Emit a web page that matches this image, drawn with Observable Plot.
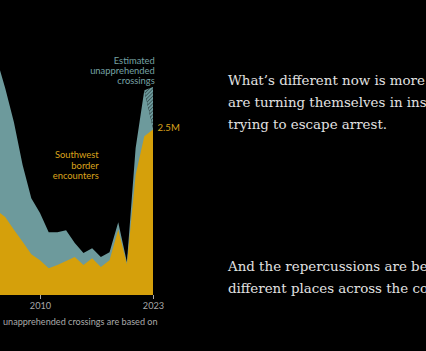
<!DOCTYPE html>
<html><head><meta charset="utf-8">
<script src="https://cdn.jsdelivr.net/npm/d3@7"></script>
<script src="https://cdn.jsdelivr.net/npm/@observablehq/plot@0.6"></script>
<style>
html,body{margin:0;padding:0;background:#000;width:426px;height:351px;overflow:hidden;position:relative;}
#chart{position:absolute;left:-20px;top:0;}
#note{position:absolute;left:3px;top:315px;font-family:Lato;font-size:9.1px;line-height:14px;color:#a9a9a9;white-space:nowrap;}
.story{position:absolute;left:228px;font-family:"DejaVu Serif";font-size:13.4px;line-height:22px;color:#e2e2e2;white-space:nowrap;}
</style></head>
<body>
<div id="chart"></div>
<div id="note">unapprehended crossings are based on</div>
<div class="story" style="top:70px">What’s different now is more people<br>are turning themselves in instead of<br>trying to escape arrest.</div>
<div class="story" style="top:256px">And the repercussions are being felt in<br>different places across the country.</div>
<script>
// Fiscal years shown
const years = [2005,2006,2007,2008,2009,2010,2011,2012,2013,2014,2015,2016,2017,2018,2019,2020,2021,2022,2023];
// Southwest border encounters (millions)
const encounters = [1.27,1.17,0.98,0.80,0.61,0.52,0.40,0.45,0.51,0.57,0.45,0.55,0.42,0.52,0.98,0.46,1.80,2.38,2.48];
// Encounters + estimated unapprehended crossings (millions), solid part
const totalCrossings = [3.55,3.10,2.59,1.95,1.45,1.23,0.94,0.94,0.97,0.78,0.63,0.70,0.57,0.64,1.09,0.49,2.20,3.07,2.50];
// Hatched (preliminary) estimate
const hatchYears = [2022,2023];
const hatchLow = [3.07,2.50];
const hatchHigh = [3.07,3.12];
const tickYears = [2010,2023];
const seriesLabels = ["Southwest\nborder\nencounters","Estimated\nunapprehended\ncrossings"];
const valueLabel = "2.5M";

const YELLOW = "#d5a00b", TEAL = "#6d9a9c";
const rows = years.map((year,i)=>({year, enc: encounters[i], total: totalCrossings[i]}));
const hatchRows = hatchYears.map((year,i)=>({year, low: hatchLow[i], high: hatchHigh[i]}));

const plot = Plot.plot({
  width: 200, height: 335,
  marginLeft: 16.54, marginRight: 27, marginTop: 28.2, marginBottom: 40,
  style: {background: "transparent", color: "#a8a8a8", fontFamily: "Lato", fontSize: "9.2px", overflow: "visible"},
  x: {domain: [2005, 2023], ticks: tickYears, tickFormat: d => String(d), tickSize: 4, tickPadding: 2.5, label: null},
  y: {domain: [0, 4], axis: null},
  marks: [
    Plot.areaY(rows, {x: "year", y: "total", fill: TEAL}),
    Plot.areaY(hatchRows, {x: "year", y1: "low", y2: "high", fill: "url(#hatch)"}),
    Plot.areaY(rows, {x: "year", y: "enc", fill: YELLOW}),
    Plot.text([seriesLabels[0]], {x: 2016.7, y: 1.95, text: d => d, textAnchor: "end", lineAnchor: "middle", lineHeight: 1.1, fill: "#dba31c", fontSize: 9.4}),
    Plot.text([seriesLabels[1]], {x: 2023.15, y: 3.37, text: d => d, textAnchor: "end", lineAnchor: "middle", lineHeight: 1.1, fill: "#76a2a4", fontSize: 9.4}),
    Plot.text([valueLabel], {x: years[years.length-1], y: encounters[encounters.length-1], text: d => d, dx: 4, dy: -2, textAnchor: "start", fill: "#dba31c", fontSize: 9.6})
  ]
});
const defs = d3.select(plot).insert("defs", ":first-child");
const pat = defs.append("pattern").attr("id","hatch").attr("width",2.6).attr("height",2.6)
  .attr("patternUnits","userSpaceOnUse").attr("patternTransform","rotate(45)");
pat.append("rect").attr("width",2.6).attr("height",2.6).attr("fill",TEAL);
pat.append("line").attr("x1",0).attr("y1",0).attr("x2",0).attr("y2",2.6).attr("stroke","#24393a").attr("stroke-width",1.2);
document.getElementById("chart").appendChild(plot);
</script>
</body></html>
